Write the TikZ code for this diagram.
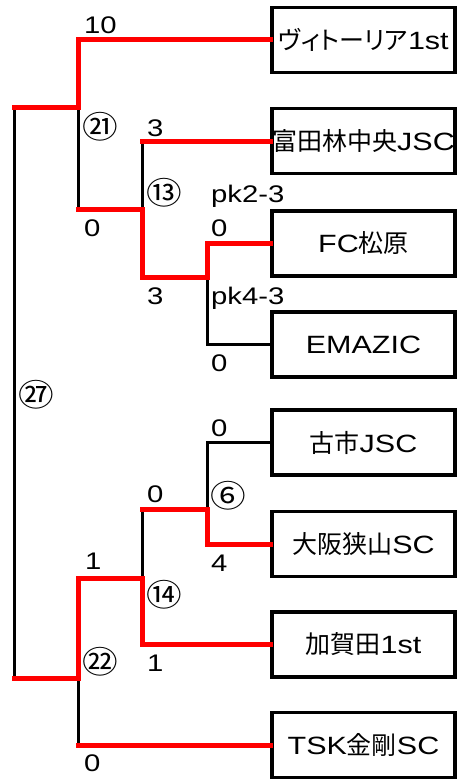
\documentclass[tikz,border=0pt]{standalone}
\usepackage{fontspec}
\setmainfont{Noto Sans CJK JP}
\newfontfamily\jpfont{Noto Sans CJK JP}[RawFeature=+palt]
\newfontfamily\enfont{Liberation Sans}[FakeStretch=1.22]
\newfontfamily\circfont{Noto Sans CJK JP}[FakeStretch=1.15]
\newcommand\en[1]{{\enfont #1}}

\tikzset{
  team/.style={draw, line width=3.5pt, minimum width=183pt, minimum height=65pt, inner sep=0pt,
    text width=183pt, align=center, font=\jpfont\fontsize{25}{25}\selectfont},
  score/.style={anchor=base west, inner sep=0pt, font=\enfont\fontsize{24}{24}\selectfont},
  match/.style={anchor=west, inner sep=0pt, font=\circfont\fontsize{31}{31}\selectfont},
  lose/.style={line width=3pt},
  win/.style={red, line width=5pt, line cap=rect},
}

\begin{document}
\begin{tikzpicture}[x=1pt,y=-1pt]
        \useasboundingbox (0,0) rectangle (457,781);
        \node[team] (V) at (363.5,40) {ヴィトーリア\en{1st}};
        \node[team] (T) at (363.5,141) {富田林中央\en{JSC}};
        \node[team] (F) at (363.5,243.5) {\en{FC}松原};
        \node[team] (E) at (363.5,344.5) {\en{EMAZIC}};
        \node[team] (K) at (363.5,442.5) {古市\en{JSC}};
        \node[team] (O) at (363.5,544) {大阪狭山\en{SC}};
        \node[team] (G) at (363.5,644.5) {加賀田\en{1st}};
        \node[team] (S) at (363.5,745) {\en{TSK}金剛\en{SC}};
        \coordinate (P1) at (207,277);
        \coordinate (P2) at (142,277);
        \coordinate (P3) at (78,209);
        \coordinate (P4) at (78,108);
        \coordinate (P5) at (14,108);
        \coordinate (Q1) at (207,509);
        \coordinate (Q2) at (142,509);
        \coordinate (Q3) at (142,578);
        \coordinate (Q4) at (78,578);
        \coordinate (Q5) at (78,678);
        \coordinate (Q6) at (14,678);
        \draw [lose] (E.west) -| (P1);
        \draw [lose] (P3 -| P2) -- (T.west -| P2);
        \draw [lose] (P4) -- (P3);
        \draw [lose] (P5) -- (Q6);
        \draw [lose] (K.west) -| (Q1);
        \draw [lose] (Q2) -- (Q3);
        \draw [lose] (Q5) -- (Q5 |- S.west);
        \draw [win] (F.west) -| (P1) -- (P2) |- (P3);
        \draw [win] (T.west) -- (T.west -| P2);
        \draw [win] (V.west) -| (P4) -- (P5);
        \draw [win] (O.west) -| (Q1) -- (Q2);
        \draw [win] (G.west) -| (Q3) -- (Q4) -- (Q5) -- (Q6);
        \draw [win] (Q5 |- S.west) -- (S.west);
        \node[score] (sV) at (84,34) {10};
        \node[match] (m21) at (82,127) {㉑};
        \node[score] (sT) at (147,136) {3};
        \node[match] (m13) at (146,193) {⑬};
        \node[score] (s21) at (84,236) {0};
        \node[score] (pkF) at (211,202) {pk2-3};
        \node[score] (sF) at (211,236) {0};
        \node[score] (s13) at (147,304) {3};
        \node[score] (pkE) at (211,304) {pk4-3};
        \node[score] (sE) at (211,371) {0};
        \node[match] (m27) at (18,395) {㉗};
        \node[score] (sK) at (211,436) {0};
        \node[match] (m6) at (210,496) {⑥};
        \node[score] (s6) at (147,502) {0};
        \node[score] (sO) at (211,571) {4};
        \node[score] (s14) at (85,569) {1};
        \node[match] (m14) at (146,595) {⑭};
        \node[score] (sG) at (147,671) {1};
        \node[match] (m22) at (82,662) {㉒};
        \node[score] (sS) at (84,771) {0};
    \end{tikzpicture}
\end{document}
